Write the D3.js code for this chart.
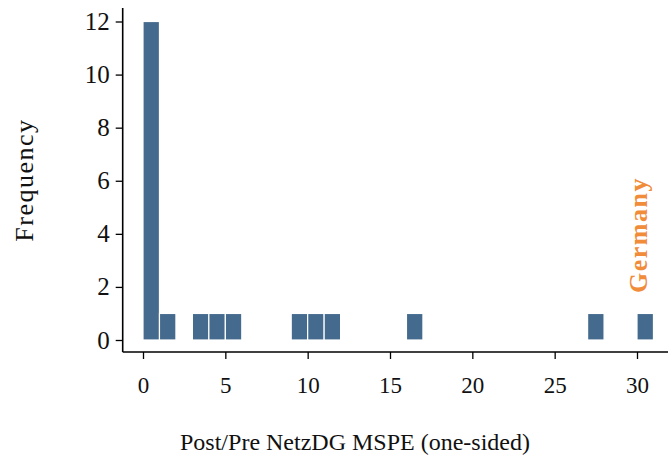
<!DOCTYPE html>
<html>
<head>
<meta charset="utf-8">
<script src="https://cdn.jsdelivr.net/npm/d3@7"></script>
<style>
  body { margin: 0; background: #fff; }
  svg { display: block; font-family: "Liberation Serif", "DejaVu Serif", serif; }
</style>
</head>
<body>
<svg id="chart" width="668" height="458"></svg>
<script>
// histogram bins (left edge) and their counts
let binStarts = [0, 1, 3, 4, 5, 9, 10, 11, 16, 27, 30];
let binCounts = [12, 1, 1, 1, 1, 1, 1, 1, 1, 1, 1];
let binWidth = 1;
let xTicks = [0, 5, 10, 15, 20, 25, 30];
let yTicks = [0, 2, 4, 6, 8, 10, 12];
let highlight = { label: 'Germany', value: 30.5 };

let svg = d3.select('#chart');

let x = d3.scaleLinear()
  .domain([0, 30])
  .range([143, 637]);

let y = d3.scaleLinear()
  .domain([0, 12])
  .range([340, 21.5]);

let spine = {
  left: 122.7,
  bottom: 352,
  top: 8,
  right: 668
};

let data = binStarts.map((b, i) => ({ x0: b, x1: b + binWidth, count: binCounts[i] }));

// bars
svg.selectAll('.bar')
  .data(data)
  .enter()
  .append('rect')
  .attr('class', 'bar')
  .attr('x', d => x(d.x0))
  .attr('width', d => x(d.x1) - x(d.x0))
  .attr('y', d => y(d.count))
  .attr('height', d => y(0) - y(d.count))
  .attr('fill', '#446a8d')
  .attr('stroke', '#fff')
  .attr('stroke-width', 1.2);

// y axis
let yAxis = svg.append('g')
  .attr('transform', `translate(${spine.left},0)`)
  .call(d3.axisLeft(y).tickValues(yTicks).tickSize(7).tickPadding(6));
yAxis.select('.domain').remove();
yAxis.selectAll('.tick line').attr('stroke', '#000').attr('stroke-width', 1.3);
yAxis.selectAll('.tick text')
  .style('font-size', '25px')
  .style('font-family', '"Liberation Serif", serif')
  .attr('fill', '#111');

// x axis
let xAxis = svg.append('g')
  .attr('transform', `translate(0,${spine.bottom})`)
  .call(d3.axisBottom(x).tickValues(xTicks).tickSize(7).tickPadding(18));
xAxis.select('.domain').remove();
xAxis.selectAll('.tick line').attr('stroke', '#000').attr('stroke-width', 1.3);
xAxis.selectAll('.tick text')
  .style('font-size', '23px')
  .style('font-family', '"Liberation Serif", serif')
  .attr('fill', '#111');

// spines
svg.append('line')
  .attr('x1', spine.left).attr('x2', spine.left)
  .attr('y1', spine.top).attr('y2', spine.bottom)
  .attr('stroke', '#000').attr('stroke-width', 1.6);
svg.append('line')
  .attr('x1', spine.left).attr('x2', spine.right)
  .attr('y1', spine.bottom).attr('y2', spine.bottom)
  .attr('stroke', '#000').attr('stroke-width', 1.6);

// axis titles
svg.append('text')
  .attr('x', 355)
  .attr('y', 450)
  .attr('text-anchor', 'middle')
  .style('font-size', '24px')
  .attr('fill', '#111')
  .text('Post/Pre NetzDG MSPE (one-sided)');

svg.append('text')
  .attr('transform', 'translate(33,180) rotate(-90)')
  .attr('text-anchor', 'middle')
  .style('font-size', '26px')
  .style('letter-spacing', '1.5px')
  .attr('fill', '#111')
  .text('Frequency');

// highlighted country
svg.append('text')
  .attr('transform', `translate(${x(highlight.value) + 1.5},293) rotate(-90)`)
  .attr('text-anchor', 'start')
  .style('font-size', '26px')
  .style('font-weight', 'bold')
  .style('letter-spacing', '1.5px')
  .attr('fill', '#f08c3a')
  .text(highlight.label);
</script>
</body>
</html>
